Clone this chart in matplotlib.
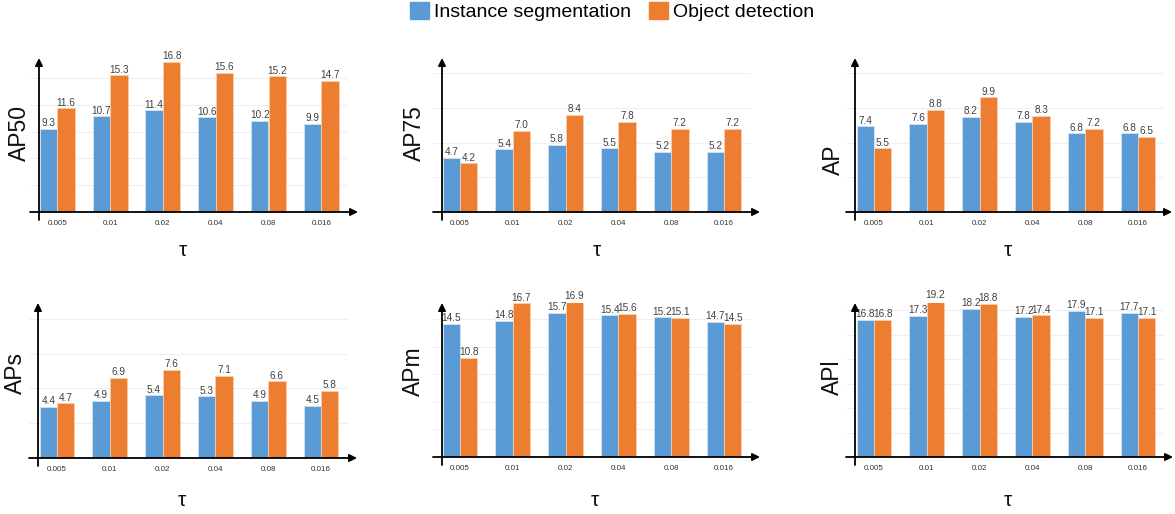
import numpy as np
import matplotlib.pyplot as plt
from matplotlib.patches import Patch

plt.rcParams['font.family'] = ['Liberation Sans', 'DejaVu Sans']

taus = ["0.005", "0.01", "0.02", "0.04", "0.08", "0.016"]
metrics = ["AP50", "AP75", "AP", "APs", "APm", "APl"]

seg_ap50 = [9.3, 10.7, 11.4, 10.6, 10.2, 9.9]
det_ap50 = [11.6, 15.3, 16.8, 15.6, 15.2, 14.7]
seg_ap75 = [4.7, 5.4, 5.8, 5.5, 5.2, 5.2]
det_ap75 = [4.2, 7.0, 8.4, 7.8, 7.2, 7.2]
seg_ap = [7.4, 7.6, 8.2, 7.8, 6.8, 6.8]
det_ap = [5.5, 8.8, 9.9, 8.3, 7.2, 6.5]
seg_aps = [4.4, 4.9, 5.4, 5.3, 4.9, 4.5]
det_aps = [4.7, 6.9, 7.6, 7.1, 6.6, 5.8]
seg_apm = [14.5, 14.8, 15.7, 15.4, 15.2, 14.7]
det_apm = [10.8, 16.7, 16.9, 15.6, 15.1, 14.5]
seg_apl = [16.8, 17.3, 18.2, 17.2, 17.9, 17.7]
det_apl = [16.8, 19.2, 18.8, 17.4, 17.1, 17.1]

seg_all = [seg_ap50, seg_ap75, seg_ap, seg_aps, seg_apm, seg_apl]
det_all = [det_ap50, det_ap75, det_ap, det_aps, det_apm, det_apl]
ytops = [17.25, 13.3, 13.3, 13.35, 16.75, 18.9]

BLUE = '#5B9BD5'
ORANGE = '#ED7D31'
W, H = 1175, 514

# layout in pixels: y-axis x, first group centre, arrow tip x, baseline y, arrow top y
layout = [
    (39, 57.3, 358, 212, 58),
    (442, 460, 760, 212, 58),
    (855, 874, 1172, 212, 58),
    (38, 57, 357, 458, 303),
    (442, 460, 760, 457, 303),
    (855, 874, 1173, 457, 303),
]
ylabel_pos = [(19, 133), (414, 133), (833, 160), (15, 373), (413, 371), (832, 377)]
tau_pos = [(183, 250), (597, 250), (1008, 250), (182, 500), (595, 500), (1008, 500)]
step = 52.8

fig = plt.figure(figsize=(W / 100, H / 100), dpi=100)

for i in range(6):
    yx, g0, xt, by, yt = layout[i]
    ax = fig.add_axes([yx / W, 1 - by / H, (xt - yx) / W, (by - yt) / H])
    x0 = (yx - g0) / step
    x1 = (xt - g0) / step
    ytop = ytops[i]
    k = (by - yt) / ytop
    ax.set_xlim(x0, x1)
    ax.set_ylim(0, ytop)
    for s in ax.spines.values():
        s.set_visible(False)
    ax.set_yticks([])
    x = np.arange(len(taus))
    ax.set_xticks(x, taus, fontsize=5.8, color='#333333')
    ax.tick_params(axis='x', length=0, pad=6)

    ax.hlines(np.arange(3, ytop, 3), x0 - 9 / step, 5.5, colors='#efefef', lw=0.8, zorder=0, clip_on=False)

    w = 0.33
    b1 = ax.bar(x - w / 2, seg_all[i], w, color=BLUE, edgecolor='#dbe8f5', lw=0.5, zorder=2)
    b2 = ax.bar(x + w / 2, det_all[i], w, color=ORANGE, edgecolor='#f8d3b8', lw=0.5, zorder=2)
    for bars, vals in ((b1, seg_all[i]), (b2, det_all[i])):
        for r, v in zip(bars, vals):
            ax.annotate(f"{v:.1f}", (r.get_x() + r.get_width() / 2, v), xytext=(0, 0.5),
                        textcoords='offset points', ha='center', va='bottom',
                        fontsize=7.2, color='#404040', zorder=3, annotation_clip=False)

    arrow = dict(arrowstyle='-|>', lw=1.3, color='black', mutation_scale=11, shrinkA=0, shrinkB=0)
    ax.annotate('', xy=(x0, ytop), xytext=(x0, -8 / k), arrowprops=arrow, annotation_clip=False, zorder=4)
    ax.annotate('', xy=(x1, 0), xytext=(x0 - 9 / step, 0), arrowprops=arrow, annotation_clip=False, zorder=4)

    lx, ly = ylabel_pos[i]
    fig.text(lx / W, 1 - ly / H, metrics[i], rotation=90, ha='center', va='center', fontsize=16.5, color='#111111')
    tx, ty = tau_pos[i]
    fig.text(tx / W, 1 - ty / H, 'τ', ha='center', va='center', fontsize=15, color='#111111')

handles = [Patch(facecolor=BLUE, edgecolor=BLUE), Patch(facecolor=ORANGE, edgecolor=ORANGE)]
fig.legend(handles, ["Instance segmentation", "Object detection"], loc='upper center',
           bbox_to_anchor=(612 / W, 1.03), ncol=2, frameon=False, fontsize=14,
           handlelength=1.0, handleheight=1.0, handletextpad=0.25, columnspacing=0.9)

fig.savefig('out.png', dpi=100)
